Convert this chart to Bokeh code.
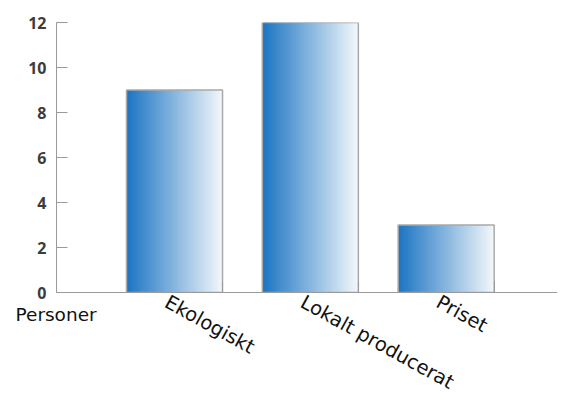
import math
from bokeh.plotting import figure
from bokeh.models import FixedTicker, Range1d, Label
from bokeh.embed import file_html
from bokeh.resources import INLINE

categories = ["Ekologiskt", "Lokalt producerat", "Priset"]
values = [9, 12, 3]
y_ticks = [0, 2, 4, 6, 8, 10, 12]
y_label = "Personer"

xs = [1, 2, 3]
bar_w = 0.707

p = figure(frame_width=501, frame_height=270, output_backend="svg", toolbar_location=None,
           x_range=Range1d(0.131, 3.82), y_range=Range1d(0, 12),
           min_border_left=56, min_border_top=22, min_border_right=0, min_border_bottom=40)
p.outline_line_color = None
p.grid.visible = False
p.background_fill_color = "white"
p.border_fill_color = "white"

# gradient bars made of overlapping thin strips
c0 = (30, 118, 196)
c1 = (242, 247, 251)
N = 48
lefts, rights, tops, colors = [], [], [], []
for x, v in zip(xs, values):
    x0 = x - bar_w / 2
    for k in range(N):
        t = k / (N - 1)
        r = int(c0[0] + (c1[0] - c0[0]) * t)
        g = int(c0[1] + (c1[1] - c0[1]) * t)
        b = int(c0[2] + (c1[2] - c0[2]) * t)
        lefts.append(x0 + bar_w * k / N)
        rights.append(x0 + bar_w * min(k + 2, N) / N)
        tops.append(v)
        colors.append("#%02x%02x%02x" % (r, g, b))
p.quad(left=lefts, right=rights, bottom=0, top=tops, fill_color=colors, line_color=None)
p.quad(left=[x - bar_w / 2 for x in xs], right=[x + bar_w / 2 for x in xs], bottom=0, top=values,
       fill_color=None, line_color="#a9a9a9", line_width=1.5)

# y axis
ya = p.yaxis[0]
ya.ticker = FixedTicker(ticks=y_ticks)
ya.axis_line_color = "#9a9a9a"
ya.major_tick_line_color = "#9a9a9a"
ya.major_tick_in = 11
ya.major_tick_out = 0
ya.minor_tick_line_color = None
ya.major_label_standoff = 10
ya.major_label_text_font = "Open Sans"
ya.major_label_text_font_style = "bold"
ya.major_label_text_font_size = "16px"
ya.major_label_text_color = "#3c3c3c"

# x axis: labels near bar centres (rotated), tick marks at bar right edges
xa = p.xaxis[0]
xa.ticker = FixedTicker(ticks=[x - 0.06 for x in xs], minor_ticks=[x + bar_w / 2 for x in xs])
xa.major_label_overrides = {x - 0.06: c for x, c in zip(xs, categories)}
xa.major_label_orientation = -math.radians(29)
xa.axis_line_color = "#9a9a9a"
xa.major_tick_line_color = None
xa.minor_tick_line_color = "#9a9a9a"
xa.minor_tick_in = 11
xa.minor_tick_out = 0
xa.major_label_standoff = 2
xa.major_label_text_font = "DejaVu Sans"
xa.major_label_text_font_size = "19.5px"
xa.major_label_text_color = "#111111"

lab = Label(x=0.131, y=0, x_offset=-41, y_offset=-22, text=y_label, text_baseline="alphabetic",
            text_font="DejaVu Sans", text_font_size="18.5px", text_color="#111111")
p.add_layout(lab, "below")

open("out.html", "w").write(file_html(p, INLINE))
